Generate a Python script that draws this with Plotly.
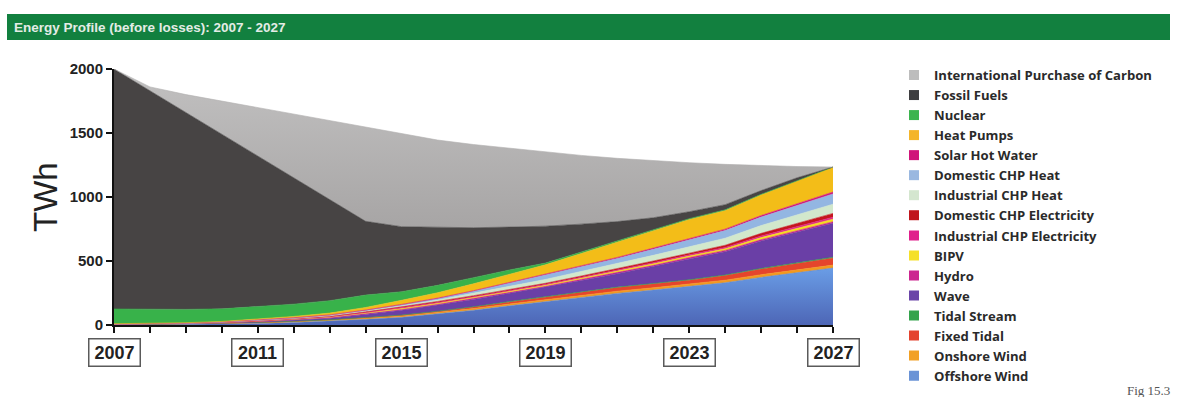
import plotly.graph_objects as go

years = list(range(2007, 2028))

# Stacked sources, bottom to top (TWh)
offshore_wind = [0, 2, 4, 7, 12, 20, 30, 44, 60, 85, 115, 150, 182, 215, 247, 273, 299, 330, 372, 408, 445]
onshore_wind = [3, 4, 5, 6, 7, 8, 9, 10, 11, 12, 13, 14, 15, 16, 17, 18, 19, 20, 21, 22, 23]
fixed_tidal = [0, 0, 0, 0, 1, 1, 2, 4, 6, 9, 13, 17, 22, 25, 28, 30, 32, 36, 44, 50, 55]
tidal_stream = [0, 0, 0, 0, 0, 0, 0, 1, 1, 2, 2, 3, 3, 3, 4, 4, 4, 5, 5, 6, 7]
wave = [0, 0, 1, 2, 4, 7, 12, 24, 38, 48, 56, 64, 73, 88, 105, 132, 164, 182, 215, 240, 265]
hydro = [4, 4, 4, 4, 5, 5, 5, 6, 6, 6, 7, 7, 7, 8, 8, 9, 9, 10, 10, 11, 12]
bipv = [0, 0, 0, 0, 1, 2, 3, 4, 6, 7, 8, 8, 9, 10, 11, 12, 12, 13, 16, 18, 20]
industrial_chp_elec = [0, 0, 0, 1, 2, 3, 4, 5, 7, 7, 7, 7, 7, 8, 8, 9, 9, 10, 12, 13, 15]
domestic_chp_elec = [0, 0, 0, 1, 2, 3, 4, 6, 8, 8, 8, 8, 8, 10, 12, 13, 13, 17, 21, 25, 30]
industrial_chp_heat = [0, 0, 0, 1, 2, 3, 4, 5, 7, 11, 17, 24, 30, 34, 38, 44, 50, 55, 61, 66, 72]
domestic_chp_heat = [0, 0, 0, 1, 2, 3, 4, 5, 7, 11, 17, 25, 32, 37, 42, 48, 54, 60, 66, 73, 80]
solar_hot_water = [1, 1, 1, 1, 2, 2, 2, 3, 4, 4, 5, 5, 6, 7, 8, 9, 10, 11, 12, 13, 15]
heat_pumps = [2, 2, 3, 4, 7, 10, 14, 20, 32, 42, 54, 66, 76, 98, 121, 136, 150, 146, 162, 180, 195]
nuclear = [115, 110, 104, 98, 96, 96, 97, 97, 67, 58, 48, 32, 14, 12, 10, 8, 6, 5, 4, 2, 0]
fossil_fuels = [1875, 1707, 1538, 1364, 1172, 982, 785, 576, 508, 452, 390, 335, 288, 217, 149, 93, 54, 40, 29, 23, 0]
carbon_purchase = [0, 30, 140, 260, 385, 505, 625, 740, 727, 683, 650, 615, 578, 537, 494, 445, 383, 315, 195, 88, 0]

year_labels = ["2007", "2011", "2015", "2019", "2023", "2027"]
y_ticks = [0, 500, 1000, 1500, 2000]

series = [
    ("Offshore Wind", offshore_wind, "#5b88d3"),
    ("Onshore Wind", onshore_wind, "#f39a1f"),
    ("Fixed Tidal", fixed_tidal, "#e5452c"),
    ("Tidal Stream", tidal_stream, "#2f9e48"),
    ("Wave", wave, "#6a3fa6"),
    ("Hydro", hydro, "#c8268e"),
    ("BIPV", bipv, "#f6df1c"),
    ("Industrial CHP Electricity", industrial_chp_elec, "#e0288a"),
    ("Domestic CHP Electricity", domestic_chp_elec, "#c5161e"),
    ("Industrial CHP Heat", industrial_chp_heat, "#d2e8cc"),
    ("Domestic CHP Heat", domestic_chp_heat, "#93b6e2"),
    ("Solar Hot Water", solar_hot_water, "#d3177a"),
    ("Heat Pumps", heat_pumps, "#f3bd18"),
    ("Nuclear", nuclear, "#38b24a"),
    ("Fossil Fuels", fossil_fuels, "#474444"),
    ("International Purchase of Carbon", carbon_purchase, "#b0aeae"),
]

legend_colors = {
    "International Purchase of Carbon": "#bdbdbd",
    "Fossil Fuels": "#3e3e40",
    "Nuclear": "#3cb44e",
    "Heat Pumps": "#f4b52a",
    "Solar Hot Water": "#d0157a",
    "Domestic CHP Heat": "#9ab8e0",
    "Industrial CHP Heat": "#d4e6cf",
    "Domestic CHP Electricity": "#c0141c",
    "Industrial CHP Electricity": "#e01f8c",
    "BIPV": "#f5e02a",
    "Hydro": "#cc2590",
    "Wave": "#6b45a8",
    "Tidal Stream": "#34a34c",
    "Fixed Tidal": "#e4432e",
    "Onshore Wind": "#f2a024",
    "Offshore Wind": "#6a93d6",
}

# soft vertical shading on the two largest bands
gradients = {
    "Offshore Wind": [[0, "#4d66b6"], [1, "#6a9de6"]],
    "International Purchase of Carbon": [[0, "#a7a5a5"], [1, "#c2c1c1"]],
}

fig = go.Figure()

# Stacked areas
for name, vals, col in series:
    kw = {}
    if name in gradients:
        kw["fillgradient"] = dict(type="vertical", colorscale=gradients[name])
    fig.add_trace(go.Scatter(
        x=years, y=vals, name=name, stackgroup="energy",
        mode="lines", line=dict(width=0.6, color=col),
        fillcolor=col, showlegend=False, hoverinfo="x+y+name", **kw,
    ))

# Legend entries with square swatches, top of the stack first (split over two legend boxes)
for i, (name, vals, col) in enumerate(reversed(series)):
    fig.add_trace(go.Scatter(
        x=[None], y=[None], name=name, mode="markers",
        marker=dict(symbol="square", size=10, color=legend_colors[name]),
        showlegend=True, legend="legend" if i < 8 else "legend2",
    ))

L, R, T, B = 114, 349, 69, 72
W, H = 1182, 397
pw, ph = W - L - R, H - T - B


def px(xp):
    return (xp - L) / pw


def py(yp):
    return (H - B - yp) / ph


bold = dict(family="Liberation Sans, Arial, sans-serif", weight="bold")
legend_font = dict(family="Open Sans, Liberation Sans, sans-serif", weight="bold",
                   size=13.1, color="#2a2a2a")

annotations = [
    dict(text="Energy Profile (before losses): 2007 - 2027", xref="paper", yref="paper",
         x=px(12), y=py(27), xanchor="left", yanchor="middle", showarrow=False,
         font=dict(size=13.5, color="#e4ece6", **bold)),
    dict(text="TWh", xref="paper", yref="paper", x=px(45), y=py(197),
         xanchor="center", yanchor="middle", textangle=-90, showarrow=False,
         font=dict(family="Liberation Sans, Arial, sans-serif", size=33, color="#222222")),
    dict(text="Fig 15.3", xref="paper", yref="paper", x=px(1172), y=py(390),
         xanchor="right", yanchor="middle", showarrow=False,
         font=dict(family="Liberation Serif, DejaVu Serif, serif", size=13, color="#555555")),
]
for lab in year_labels:
    annotations.append(dict(
        text=lab, x=int(lab), xref="x", yref="paper", y=py(352),
        xanchor="center", yanchor="middle", showarrow=False,
        width=46, height=22, borderpad=2, bordercolor="#5a5a5a", borderwidth=1.5,
        bgcolor="white", font=dict(size=18, color="#222222", **bold),
    ))

legend_common = dict(
    xanchor="left", yanchor="top", traceorder="normal", tracegroupgap=0,
    font=legend_font, bgcolor="rgba(0,0,0,0)", itemclick=False,
)

fig.update_layout(
    width=W, height=H,
    margin=dict(l=L, r=R, t=T, b=B, autoexpand=False),
    paper_bgcolor="white", plot_bgcolor="white",
    showlegend=True,
    legend=dict(x=px(894), y=py(60), **legend_common),
    legend2=dict(x=px(894), y=py(60 + 8 * 20.05), **legend_common),
    xaxis=dict(
        range=[2007, 2027], tickmode="linear", tick0=2007, dtick=1,
        ticks="outside", ticklen=6, tickwidth=2, tickcolor="#111111",
        showticklabels=False, showgrid=False, zeroline=False,
        showline=True, linecolor="#111111", linewidth=2,
    ),
    yaxis=dict(
        range=[0, 2000], tickvals=y_ticks, ticktext=[str(v) for v in y_ticks],
        ticks="outside", ticklen=6, tickwidth=2, tickcolor="#111111",
        tickfont=dict(size=15, color="#222222", **bold),
        showgrid=False, zeroline=False,
        showline=True, linecolor="#111111", linewidth=2,
    ),
    shapes=[dict(type="rect", xref="paper", yref="paper",
                 x0=px(7), x1=px(1170), y0=py(40), y1=py(14),
                 fillcolor="#12803f", line=dict(width=0), layer="below")],
    annotations=annotations,
)

fig.write_html("out.html")
